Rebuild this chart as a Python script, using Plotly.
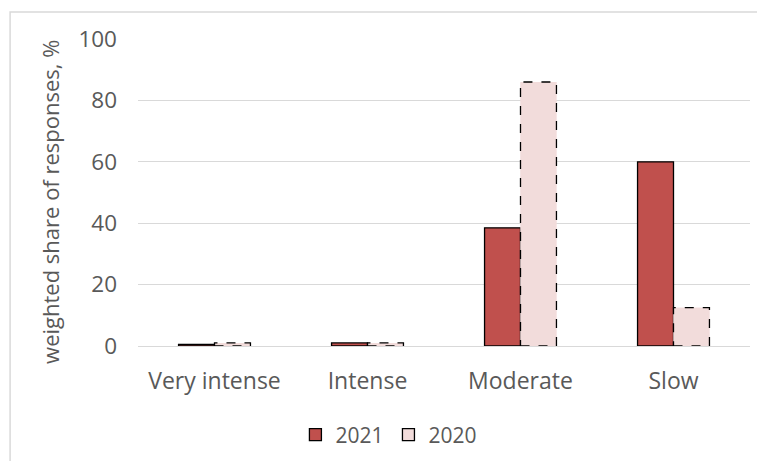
import plotly.graph_objects as go

categories = ["Very intense", "Intense", "Moderate", "Slow"]
values_2021 = [0.5, 1.0, 38.5, 60.0]
values_2020 = [1.0, 1.0, 86.0, 12.5]
y_ticks = [0, 20, 40, 60, 80, 100]

FONT = "Open Sans"
GRAY = "#595959"
PINK = "#F2DCDB"
BARGAP = 0.53
BW = (1 - BARGAP) / 2

fig = go.Figure()
fig.add_trace(go.Bar(
    name="2021", x=categories, y=values_2021, legendrank=1,
    marker=dict(color="#C0504D", line=dict(color="black", width=1.3)),
))
fig.add_trace(go.Bar(
    name="2020", x=categories, y=values_2020, showlegend=False,
    marker=dict(color=PINK, line=dict(color="black", width=0)),
))

# dashed outlines for 2020 bars
for i, (c, v) in enumerate(zip(categories, values_2020)):
    fig.add_shape(type="rect", xref="x", yref="y",
                  x0=c, x0shift=0, x1=c, x1shift=BW, y0=0, y1=v,
                  line=dict(color="black", width=1.3, dash="dash"),
                  fillcolor=PINK, opacity=1, layer="above",
                  name="2020", showlegend=(i == 0), legendrank=2,
                  legendgroup="2020")

# outer frame
fig.add_shape(type="rect", xref="paper", yref="paper",
              x0=-0.209, x1=1.2, y0=-0.6, y1=1.088,
              line=dict(color="#D9D9D9", width=1.5), layer="below")

fig.add_annotation(text="weighted share of responses, %", xref="paper", yref="paper",
                   x=-0.144, y=0.469, xanchor="center", yanchor="middle",
                   textangle=-90, showarrow=False,
                   font=dict(family=FONT, size=22, color=GRAY))

fig.update_layout(
    width=765, height=461,
    margin=dict(l=130, r=23, t=31, b=123),
    plot_bgcolor="white", paper_bgcolor="white",
    barmode="group", bargap=BARGAP, bargroupgap=0,
    font=dict(family=FONT, size=22, color=GRAY),
    showlegend=True,
    legend=dict(orientation="h", x=0.41, xanchor="center", y=-0.29, yanchor="middle",
                font=dict(family=FONT, size=21, color=GRAY), itemwidth=30,
                traceorder="normal"),
    xaxis=dict(showgrid=False, showline=False, ticks="", ticklabelstandoff=19,
               tickfont=dict(family=FONT, size=23, color=GRAY)),
    yaxis=dict(range=[0, 100], tickvals=y_ticks, showgrid=True, gridcolor="#D9D9D9",
               gridwidth=1.3, zeroline=True, zerolinecolor="#D9D9D9", zerolinewidth=1.3,
               showline=False, ticks="", ticklabelstandoff=20,
               tickfont=dict(family=FONT, size=22.5, color=GRAY)),
)

fig.write_html("out.html")
